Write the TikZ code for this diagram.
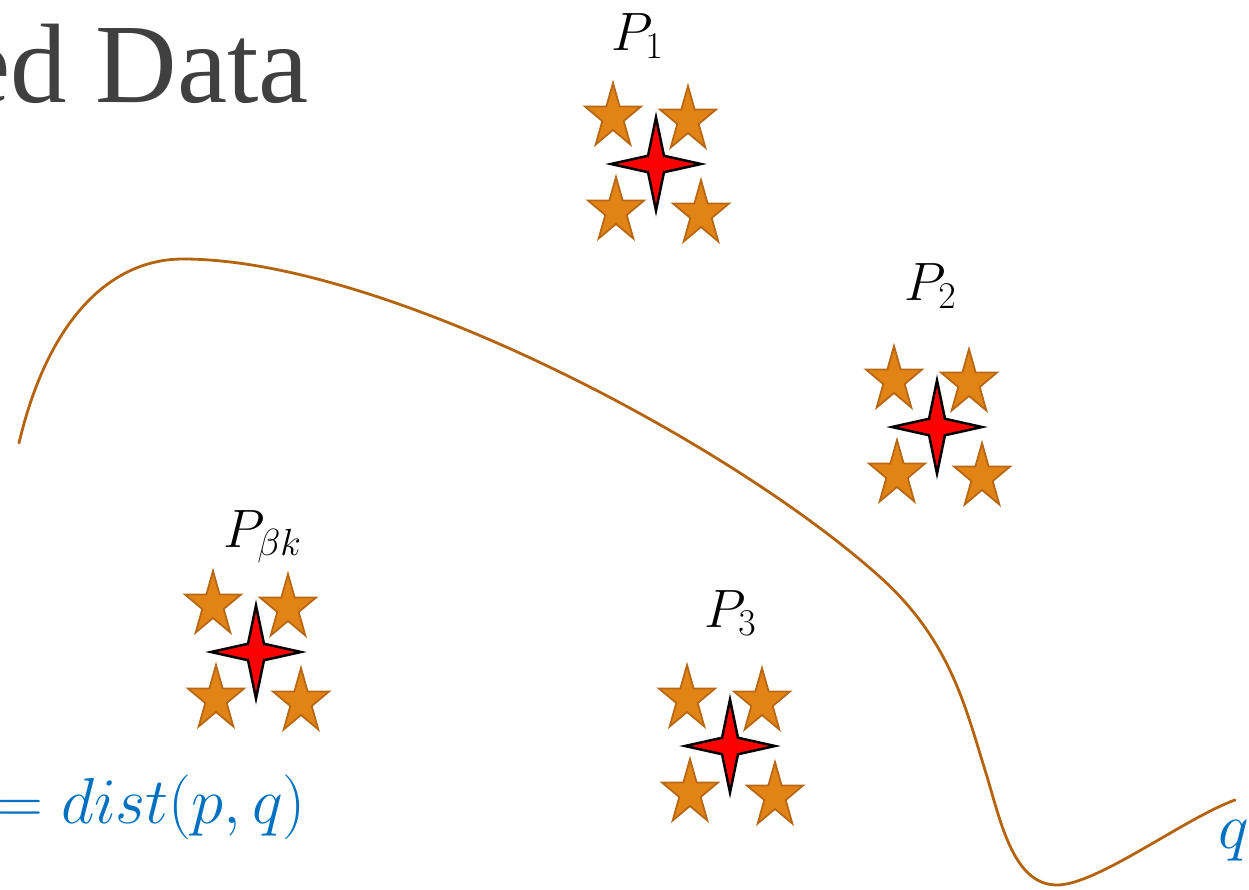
\RequirePackage{fix-cm}
\documentclass[tikz,border=0pt]{standalone}
\usepackage{fontspec}
\newfontfamily\titlefont{Liberation Serif}
\definecolor{curvecol}{RGB}{180,100,15}
\definecolor{starfill}{RGB}{226,131,22}
\definecolor{starline}{RGB}{184,104,20}
\definecolor{mathblue}{RGB}{0,112,192}
\definecolor{titlegray}{RGB}{64,64,64}
\tikzset{
  curvestyle/.style={draw=curvecol, line width=2.8pt, line cap=round},
  ostarpath/.style={fill=starfill, draw=starline, line width=1.8pt, line join=miter},
  rstarpath/.style={fill=red, draw=black, line width=2.5pt, line join=miter},
  plabel/.style={anchor=base west, inner sep=0pt, font=\fontsize{54}{60}\selectfont},
  bluemath/.style={text=mathblue, inner sep=0pt, font=\fontsize{65}{70}\selectfont},
  ostar/.pic={\path[ostarpath, xscale=29.5, yscale=34]
     (270:1) -- (306:0.382) -- (342:1) -- (18:0.382) -- (54:1) -- (90:0.382)
     -- (126:1) -- (162:0.382) -- (198:1) -- (234:0.382) -- cycle;},
  rstar/.pic={\path[rstarpath, xscale=45, yscale=46.5]
     (0:1) -- (45:0.25) -- (90:1) -- (135:0.25) -- (180:1) -- (225:0.25)
     -- (270:1) -- (315:0.25) -- cycle;},
  cluster/.pic={
     \pic at (-43,-47) {ostar};
     \pic at (32,-44) {ostar};
     \pic at (-40,47) {ostar};
     \pic at (45,50) {ostar};
     \pic at (0,0) {rstar};},
}
\begin{document}
\begin{tikzpicture}[x=1pt,y=-1pt]
\useasboundingbox (0,0) rectangle (1249,889);
\clip (0,0) rectangle (1249,889);

% title fragment
\node[anchor=base east, inner sep=0pt, text=titlegray,
      font=\titlefont\fontsize{113}{120}\selectfont] (title) at (309,102) {ed Data};

% curve
\coordinate (k0) at (19,443);
\coordinate (k1) at (183,259);
\coordinate (k2) at (880,577);
\coordinate (k3) at (985,770);
\coordinate (k4) at (1057,885);
\coordinate (k5) at (1235,800);
\draw[curvestyle] (k0) .. controls (48,320) and (110,259) .. (k1)
  .. controls (383,259) and (730,442) .. (k2)
  .. controls (950,640) and (965,706) .. (k3)
  .. controls (1000,818) and (1012,885) .. (k4)
  .. controls (1097,885) and (1185,818) .. (k5);

% clusters
\pic (c1) at (656,164) {cluster};
\pic (c2) at (937,427) {cluster};
\pic (c3) at (730,746) {cluster};
\pic (cbk) at (256,652) {cluster};

% labels
\node[plabel] (p1) at (611,50) {$P_1$};
\node[plabel] (p2) at (904,300) {$P_2$};
\node[plabel] (p3) at (704,627) {$P_3$};
\node[plabel] (pbk) at (223,547) {$P_{\beta k}$};

% blue text
\node[bluemath, anchor=base east] (dist) at (306,823) {$=dist(p,q)$};
\node[bluemath, anchor=base west] (q) at (1218,848) {$q$};
\end{tikzpicture}
\end{document}
